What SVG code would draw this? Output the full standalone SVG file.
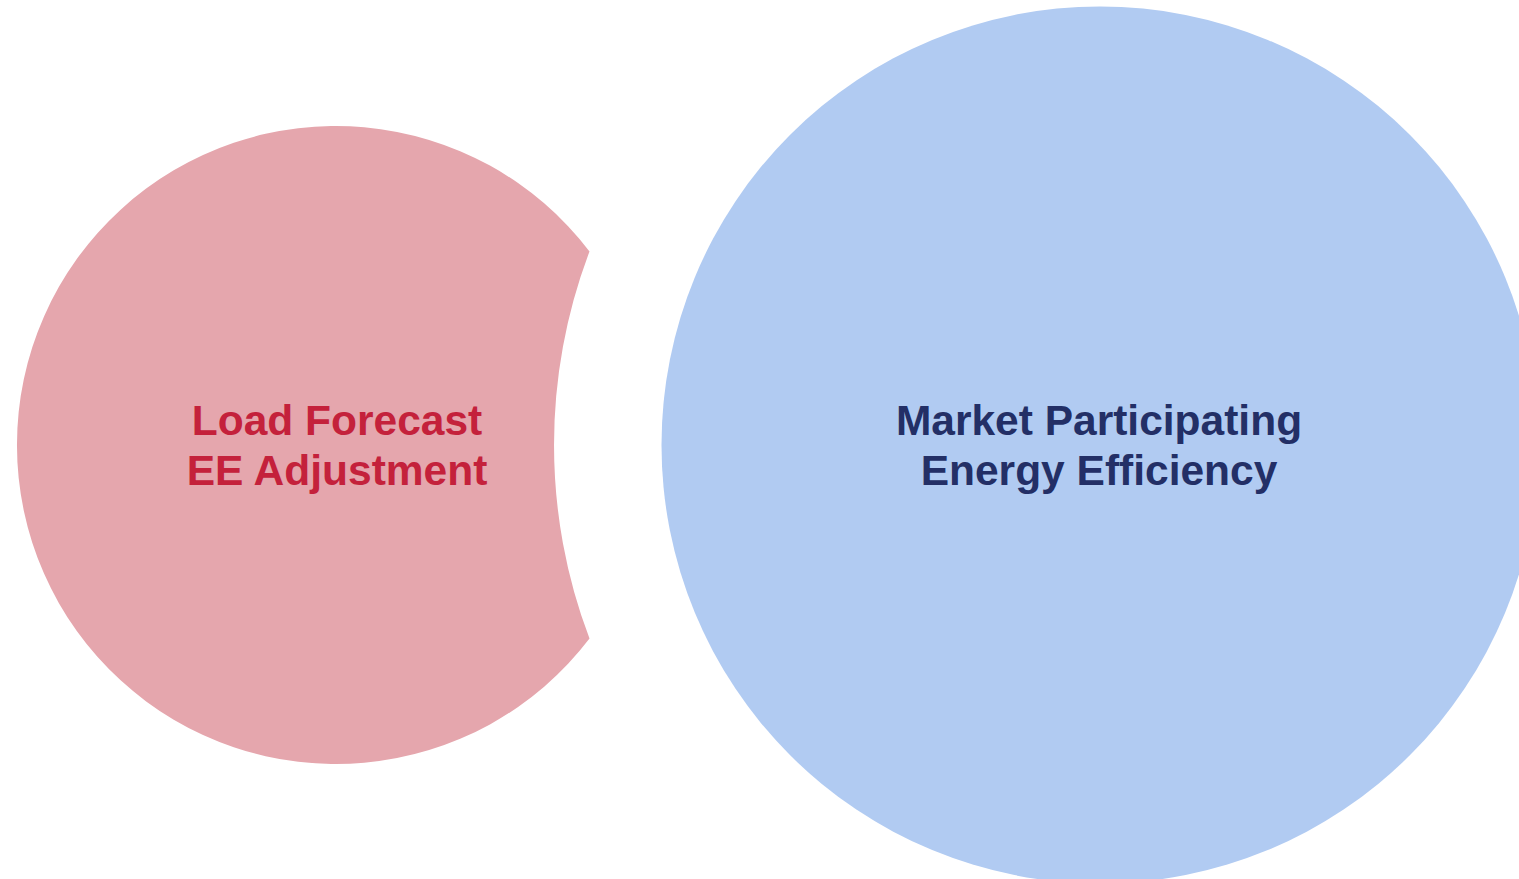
<svg xmlns="http://www.w3.org/2000/svg" width="1519" height="879" viewBox="0 0 1519 879">
<style>
  .lbl { font-family: "Liberation Sans", Arial, sans-serif; font-weight: bold; font-size: 42.5px; text-anchor: middle; }
</style>
<rect width="1519" height="879" fill="#FFFFFF"/>
<g id="load-forecast">
  <path d="M 589.5 251.4 A 319 319 0 1 0 589.5 638.6 A 546 546 0 0 1 589.5 251.4 Z" fill="#E5A6AD"/>
  <text class="lbl" x="337" y="435" fill="#C4213B">Load Forecast</text>
  <text class="lbl" x="337" y="485" fill="#C4213B">EE Adjustment</text>
</g>
<g id="market-ee">
  <circle cx="1100" cy="445" r="438.5" fill="#B1CBF2"/>
  <text class="lbl" x="1099" y="435" fill="#232F66">Market Participating</text>
  <text class="lbl" x="1099" y="485" fill="#232F66">Energy Efficiency</text>
</g>
<g id="connectors"></g>
</svg>
